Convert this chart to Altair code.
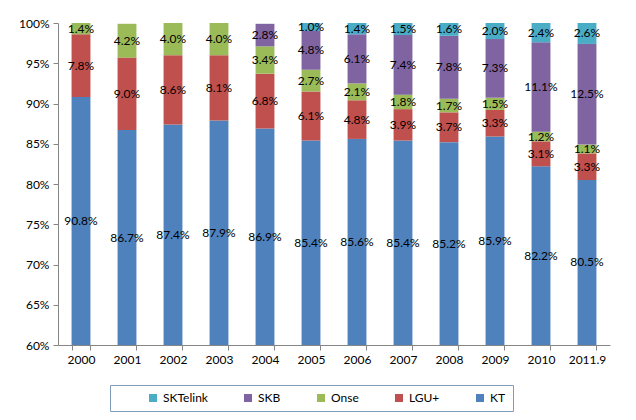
import altair as alt
import pandas as pd

years = ["2000", "2001", "2002", "2003", "2004", "2005", "2006", "2007", "2008", "2009", "2010", "2011.9"]
kt = [90.8, 86.7, 87.4, 87.9, 86.9, 85.4, 85.6, 85.4, 85.2, 85.9, 82.2, 80.5]
lgu = [7.8, 9.0, 8.6, 8.1, 6.8, 6.1, 4.8, 3.9, 3.7, 3.3, 3.1, 3.3]
onse = [1.4, 4.2, 4.0, 4.0, 3.4, 2.7, 2.1, 1.8, 1.7, 1.5, 1.2, 1.1]
skb = [0, 0, 0, 0, 2.8, 4.8, 6.1, 7.4, 7.8, 7.3, 11.1, 12.5]
sktelink = [0, 0, 0, 0, 0, 1.0, 1.4, 1.5, 1.6, 2.0, 2.4, 2.6]

series = ["KT", "LGU+", "Onse", "SKB", "SKTelink"]
colors = ["#4F81BD", "#C0504D", "#9BBB59", "#8064A2", "#4BACC6"]
y_ticks = [60, 65, 70, 75, 80, 85, 90, 95, 100]

rows = []
for i, yr in enumerate(years):
    base = 0.0
    for k, (name, vals) in enumerate(zip(series, [kt, lgu, onse, skb, sktelink])):
        v = vals[i]
        lo, hi = base, base + v
        base = hi
        vlo, vhi = max(lo, 60), min(hi, 100)
        rows.append(dict(year=yr, company=name, value=v, order=k, y0=lo, y1=hi,
                         mid=(vlo + vhi) / 2, label=f"{v:.1f}%"))
df = pd.DataFrame(rows)

FONT = "Lato"
x_enc = alt.X("year:N", sort=years, title=None,
              scale=alt.Scale(paddingInner=0.59, paddingOuter=0.295),
              axis=alt.Axis(labelAngle=0, tickBand="extent", tickSize=5,
                            domainColor="#868686", tickColor="#868686",
                            labelFontSize=12, labelColor="#000", labelPadding=4))
y_scale = alt.Scale(domain=[60, 100], nice=False, zero=False)

legend_domain = series[::-1]
legend_range = colors[::-1]

bars = alt.Chart(df).mark_bar(clip=True).encode(
    x=x_enc,
    y=alt.Y("y0:Q", scale=y_scale, title=None,
            axis=alt.Axis(values=y_ticks, labelExpr="datum.value + '%'", grid=False,
                          tickSize=5, domainColor="#868686", tickColor="#868686",
                          labelFontSize=12, labelColor="#000", labelPadding=4)),
    y2="y1:Q",
    color=alt.Color("company:N", title=None,
                    scale=alt.Scale(domain=legend_domain, range=legend_range),
                    legend=alt.Legend(orient="none", direction="horizontal",
                                      legendX=52, legendY=362,
                                      strokeColor="#7f9db9", padding=7,
                                      symbolType="square", symbolSize=64,
                                      symbolStrokeWidth=0,
                                      columnPadding=34, labelFontSize=12,
                                      labelColor="#000", labelFont=FONT,
                                      title=" ", titleOrient="left",
                                      titlePadding=30)),
)

texts = alt.Chart(df).transform_filter("datum.value > 0").mark_text(
    fontSize=12, font=FONT, color="#000"
).encode(
    x=alt.X("year:N", sort=years),
    y=alt.Y("mid:Q", scale=y_scale),
    text="label:N",
)

chart = alt.layer(bars, texts).properties(
    width=552, height=322,
    padding={"left": 50, "top": 15, "right": 18, "bottom": 75},
    autosize="none",
).configure(font=FONT).configure_view(stroke=None).configure_axis(labelFont=FONT)

chart.save("out.html", embed_options={"renderer": "svg", "actions": False})
